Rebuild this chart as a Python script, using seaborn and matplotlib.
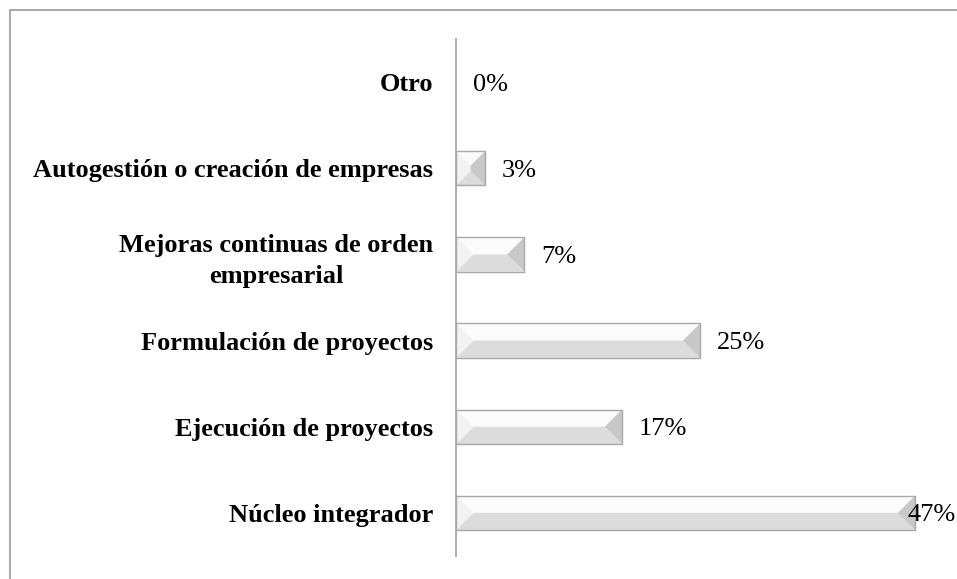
import matplotlib
matplotlib.use("Agg")
import matplotlib.pyplot as plt
from matplotlib.patches import Polygon, Rectangle
import seaborn as sns
import numpy as np
import pandas as pd

categories = [
    "Otro",
    "Autogestión o creación de empresas",
    "Mejoras continuas de orden\nempresarial",
    "Formulación de proyectos",
    "Ejecución de proyectos",
    "Núcleo integrador",
]
values = [0, 3, 7, 25, 17, 47]
value_labels = ["0%", "3%", "7%", "25%", "17%", "47%"]

sns.set_style("white")
plt.rcParams["font.family"] = ["Liberation Serif", "DejaVu Serif"]

W, H = 957, 579
fig = plt.figure(figsize=(W / 100, H / 100), dpi=100)
ax_left, ax_right = 456 / W, 1.0
ax_top, ax_bottom = 1 - 39 / H, 1 - 556 / H
ax = fig.add_axes([ax_left, ax_bottom, ax_right - ax_left, ax_top - ax_bottom])

df = pd.DataFrame({"cat": categories, "val": values})
sns.barplot(data=df, x="val", y="cat", orient="h", color="#e2e2e2",
            width=0.4, ax=ax, edgecolor="#a8a8a8", linewidth=1.0)

xmax = 47 * (W - 456) / (915 - 456)
ax.set_xlim(0, xmax)
ax.set_ylim(len(categories) - 0.5, -0.5)
ax.set_xlabel("")
ax.set_ylabel("")
ax.set_xticks([])
for s in ["top", "right", "bottom"]:
    ax.spines[s].set_visible(False)
ax.spines["left"].set_color("#a6a6a6")
ax.spines["left"].set_linewidth(1.3)
ax.tick_params(axis="y", length=0, pad=16.5)
for lab in ax.get_yticklabels():
    lab.set_fontsize(19)
    lab.set_fontweight("bold")
    lab.set_color("black")
    lab.set_multialignment("center")
    lab.set_linespacing(1.45)
    lab.set_verticalalignment("center_baseline")

# bevel decoration derived from the bar patches
inv = ax.transData.inverted()
for p in list(ax.patches):
    x0, y0 = p.get_x(), p.get_y()
    w, h = p.get_width(), p.get_height()
    if w <= 0:
        p.set_visible(False)
        continue
    (px0, py0) = ax.transData.transform((x0, y0))
    (px1, py1) = ax.transData.transform((x0 + w, y0 + h))
    L, R = min(px0, px1), max(px0, px1)
    B, T = min(py0, py1), max(py0, py1)
    d = min((T - B) / 2.0, (R - L) / 2.0)
    def poly(pts, col):
        data_pts = inv.transform(np.array(pts))
        ax.add_patch(Polygon(data_pts, closed=True, facecolor=col,
                             edgecolor="none", zorder=2.5))
    poly([(L, T), (R, T), (R - d, T - d), (L + d, T - d)], "#fbfbfb")
    poly([(L, B), (R, B), (R - d, B + d), (L + d, B + d)], "#dcdcdc")
    poly([(L, T), (L + d, T - d), (L + d, B + d), (L, B)], "#f2f2f2")
    poly([(R, T), (R - d, T - d), (R - d, B + d), (R, B)], "#c8c8c8")
    if (T - B) - 2 * d > 0.5:
        poly([(L + d, T - d), (R - d, T - d), (R - d, B + d), (L + d, B + d)], "#e6e6e6")
    p.set_facecolor("none")
    p.set_zorder(3)

vmax = max(values)
for i, (v, lab) in enumerate(zip(values, value_labels)):
    off = 12 if v < vmax else -5.5
    ax.annotate(lab, xy=(v, i), xytext=(off, 0), textcoords="offset points",
                ha="left", va="center_baseline", fontsize=19, color="black",
                annotation_clip=False, zorder=4)

# outer chart border (continues off the right/bottom edge)
fig.patches.append(Rectangle((10 / W, -0.05), 1.2, 1 - 9.5 / H + 0.05,
                             transform=fig.transFigure, fill=False,
                             edgecolor="#a0a0a0", linewidth=1.3))

fig.savefig("out.png", dpi=100)
